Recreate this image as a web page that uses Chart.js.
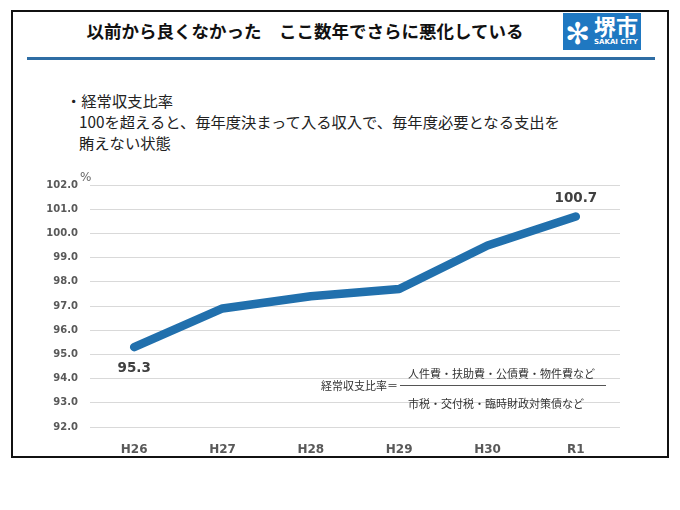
<!DOCTYPE html>
<html>
<head>
<meta charset="utf-8">
<script src="https://cdn.jsdelivr.net/npm/chart.js@4/dist/chart.umd.min.js"></script>
<style>
  body { margin: 0; background: #fff; font-family: "Noto Sans CJK JP", sans-serif; }
  #wrap { position: relative; width: 680px; height: 510px; overflow: hidden; }
  #frame { position: absolute; left: 11px; top: 10px; width: 654px; height: 444px; border: 2px solid #111; }
  #title { position: absolute; left: 0; width: 610px; top: 18px; text-align: center; font-size: 17.5px; font-weight: bold; color: #111; line-height: 26px; }
  #rule { position: absolute; left: 27px; top: 57px; width: 628px; height: 3px; background: #2e6da4; }
  #logo { position: absolute; left: 563px; top: 13px; width: 78px; height: 37px; background: #1f78c1; color: #fff; }
  #logo .mark { position: absolute; left: 2px; top: 0px; font-size: 30px; line-height: 37px; }
  #logo .kanji { position: absolute; left: 31px; top: -2px; font-size: 22px; font-weight: bold; line-height: 28px; }
  #logo .en { position: absolute; left: 31px; top: 25px; font-family: "DejaVu Sans"; font-size: 7px; font-weight: bold; line-height: 9px; }
  #note { position: absolute; left: 66px; top: 90px; font-size: 15.3px; line-height: 21px; color: #222; }
  #note .ind { padding-left: 13px; }
  .formula { position: absolute; font-size: 11px; color: #333; line-height: 14px; }
  canvas { position: absolute; left: 0; top: 0; }
</style>
</head>
<body>
<div id="wrap">
  <div id="frame"></div>
  <div id="title">以前から良くなかった　ここ数年でさらに悪化している</div>
  <div id="logo"><span class="mark">✻</span><span class="kanji">堺市</span><span class="en">SAKAI CITY</span></div>
  <div id="rule"></div>
  <div id="note">・経常収支比率<br><span class="ind">100を超えると、毎年度決まって入る収入で、毎年度必要となる支出を</span><br><span class="ind">賄えない状態</span></div>
  <canvas id="chart" width="680" height="510"></canvas>
  <div class="formula" style="left:321px;top:378px;">経常収支比率＝</div>
  <div class="formula" style="left:400px;top:385px;width:206px;height:1px;background:#555;"></div>
  <div class="formula" style="left:408px;top:366px;">人件費・扶助費・公債費・物件費など</div>
  <div class="formula" style="left:408px;top:396px;">市税・交付税・臨時財政対策債など</div>
</div>
<script>
const years = ['H26', 'H27', 'H28', 'H29', 'H30', 'R1'];
const ratio = [95.3, 96.9, 97.4, 97.7, 99.5, 100.7];
const labelled = {0: 'below', 5: 'above'};

const labelPlugin = {
  id: 'labels',
  afterDatasetsDraw(chart) {
    const ctx = chart.ctx;
    const pts = chart.getDatasetMeta(0).data;
    ctx.save();
    ctx.font = 'bold 13.5px "DejaVu Sans"';
    ctx.fillStyle = '#404040';
    ctx.textAlign = 'center';
    ctx.textBaseline = 'middle';
    for (const i in labelled) {
      const p = pts[i];
      const dy = labelled[i] === 'below' ? 21 : -18;
      ctx.fillText(ratio[i].toFixed(1), p.x, p.y + dy);
    }
    ctx.font = '12px "DejaVu Sans"';
    ctx.fillStyle = '#666';
    ctx.textAlign = 'left';
    ctx.fillText('%', chart.chartArea.left - 10, chart.chartArea.top - 7);
    ctx.restore();
  }
};

new Chart(document.getElementById('chart'), {
  type: 'line',
  data: {
    labels: years,
    datasets: [{
      data: ratio,
      borderColor: '#2170ad',
      borderWidth: 8.5,
      borderCapStyle: 'round',
      borderJoinStyle: 'round',
      pointRadius: 0,
      tension: 0
    }]
  },
  options: {
    responsive: false,
    animation: false,
    layout: { padding: { left: 42, right: 60, top: 185, bottom: 53 } },
    plugins: { legend: { display: false }, tooltip: { enabled: false } },
    scales: {
      x: {
        offset: true,
        grid: { display: false },
        border: { display: false },
        ticks: { color: '#595959', font: { family: 'DejaVu Sans', size: 12, weight: 'bold' }, padding: 8 },
        afterFit(s) { s.height = 30; }
      },
      y: {
        min: 92,
        max: 102,
        grid: { color: '#d9d9d9', drawTicks: false },
        border: { display: false },
        ticks: {
          stepSize: 1,
          color: '#595959',
          padding: 12,
          font: { family: 'DejaVu Sans', size: 10, weight: 'bold' },
          callback: v => v.toFixed(1)
        },
        afterFit(s) { s.width = 48; }
      }
    }
  },
  plugins: [labelPlugin]
});
</script>
</body>
</html>
